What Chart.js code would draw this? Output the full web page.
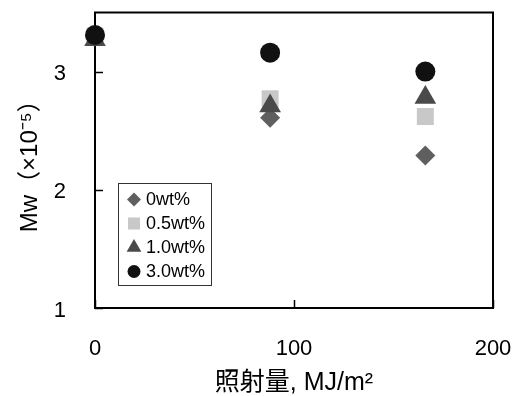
<!DOCTYPE html>
<html>
<head>
<meta charset="utf-8">
<script src="https://cdn.jsdelivr.net/npm/chart.js@4/dist/chart.umd.min.js"></script>
<style>
  html, body { margin: 0; padding: 0; background: #fff; }
  #wrap { width: 524px; height: 396px; }
</style>
</head>
<body>
<div id="wrap"><canvas id="c" width="524" height="396"></canvas></div>
<script>
// Irradiation dose (MJ/m2)
const doses = [0, 88, 166];
// Mw (x10^-5) for each additive loading
const mw0wt = [3.30, 2.61, 2.29];
const mw05wt = [3.30, 2.77, 2.62];
const mw10wt = [3.27, 2.71, 2.78];
const mw30wt = [3.31, 3.16, 3.00];

const seriesNames = ['0wt%', '0.5wt%', '1.0wt%', '3.0wt%'];
const xTicks = [0, 100, 200];
const yTicks = [1, 2, 3];

const numFont = "'Liberation Sans', Arial, sans-serif";
const jpFont = "'Liberation Sans', 'Noto Sans CJK JP', sans-serif";

function pts(ys) { return doses.map((d, i) => ({ x: d, y: ys[i] })); }

const styles = [
  { pointStyle: 'rectRot', color: '#5f5f5f', radius: 10, legendRadius: 7 },
  { pointStyle: 'rect', color: '#c8c8c8', radius: 12, legendRadius: 8.5 },
  { pointStyle: 'triangle', color: '#4a4a4a', radius: 12.5, legendRadius: 8.5 },
  { pointStyle: 'circle', color: '#111111', radius: 10, legendRadius: 6.5 }
];
const seriesData = [mw0wt, mw05wt, mw10wt, mw30wt];

const datasets = seriesData.map((ys, i) => ({
  label: seriesNames[i],
  data: pts(ys),
  pointStyle: styles[i].pointStyle,
  pointRadius: styles[i].radius,
  pointHoverRadius: styles[i].radius,
  pointBackgroundColor: styles[i].color,
  pointBorderColor: styles[i].color,
  pointBorderWidth: 0,
  showLine: false,
  clip: false,
  order: 3 - i
}));

// Frame around the plot area plus inward tick marks
const framePlugin = {
  id: 'frame',
  beforeDatasetsDraw(chart) {
    const { ctx, chartArea: a, scales } = chart;
    ctx.save();
    ctx.strokeStyle = '#000';
    ctx.lineWidth = 1.5;
    ctx.beginPath();
    yTicks.forEach(v => {
      const y = Math.round(scales.y.getPixelForValue(v)) + 0.5;
      ctx.moveTo(a.left, y);
      ctx.lineTo(a.left + 8, y);
    });
    xTicks.forEach(v => {
      const x = Math.round(scales.x.getPixelForValue(v)) + 0.5;
      ctx.moveTo(x, a.bottom);
      ctx.lineTo(x, a.bottom - 8);
    });
    ctx.stroke();
    ctx.lineWidth = 2;
    ctx.strokeRect(a.left, a.top, a.right - a.left, a.bottom - a.top);
    ctx.restore();
  }
};

// Boxed legend inside the plot area
const insetLegend = {
  id: 'insetLegend',
  afterDatasetsDraw(chart) {
    const { ctx, chartArea: a } = chart;
    const left = a.left + 23, top = 183, w = 93, h = 102;
    ctx.save();
    ctx.fillStyle = '#fff';
    ctx.fillRect(left, top, w, h);
    ctx.strokeStyle = '#333';
    ctx.lineWidth = 1;
    ctx.strokeRect(left + 0.5, top + 0.5, w, h);
    ctx.font = "18px " + jpFont;
    ctx.textBaseline = 'middle';
    ctx.textAlign = 'left';
    seriesNames.forEach((name, i) => {
      const cy = top + 16.5 + i * 24;
      ctx.fillStyle = styles[i].color;
      ctx.strokeStyle = styles[i].color;
      Chart.helpers.drawPoint(ctx, {
        pointStyle: styles[i].pointStyle,
        radius: styles[i].legendRadius,
        rotation: 0,
        borderWidth: 0
      }, left + 16, cy);
      ctx.fillStyle = '#000';
      ctx.fillText(name, left + 28, cy + 1);
    });
    ctx.restore();
  }
};

function noEdgePadding(s) {
  s.paddingTop = 0; s.paddingBottom = 0; s.paddingLeft = 0; s.paddingRight = 0;
}

new Chart(document.getElementById('c'), {
  type: 'scatter',
  data: { datasets },
  options: {
    responsive: false,
    animation: false,
    layout: { padding: { top: 10, right: 31, left: 0, bottom: 0 } },
    plugins: { legend: { display: false }, tooltip: { enabled: false } },
    scales: {
      x: {
        type: 'linear',
        min: 0, max: 200,
        afterBuildTicks: s => { s.ticks = xTicks.map(v => ({ value: v })); },
        afterFit: s => { s.height = 88; noEdgePadding(s); },
        grid: { display: false, drawTicks: false },
        border: { display: false },
        ticks: { padding: 28, color: '#000', font: { family: numFont, size: 22 } },
        title: {
          display: true,
          text: '照射量, MJ/m²',
          color: '#000',
          font: { family: jpFont, size: 25 },
          padding: { top: 0, bottom: -2 }
        }
      },
      y: {
        type: 'linear',
        min: 1, max: 3.5,
        afterBuildTicks: s => { s.ticks = yTicks.map(v => ({ value: v })); },
        afterFit: s => { s.width = 95; noEdgePadding(s); },
        grid: { display: false, drawTicks: false },
        border: { display: false },
        ticks: { padding: 29, labelOffset: 2.5, color: '#000', font: { family: numFont, size: 22 } },
        title: {
          display: true,
          text: 'Mw（×10⁻⁵）',
          color: '#000',
          font: { family: jpFont, size: 24 },
          padding: { top: 16, bottom: 0 }
        }
      }
    }
  },
  plugins: [framePlugin, insetLegend]
});
</script>
</body>
</html>
